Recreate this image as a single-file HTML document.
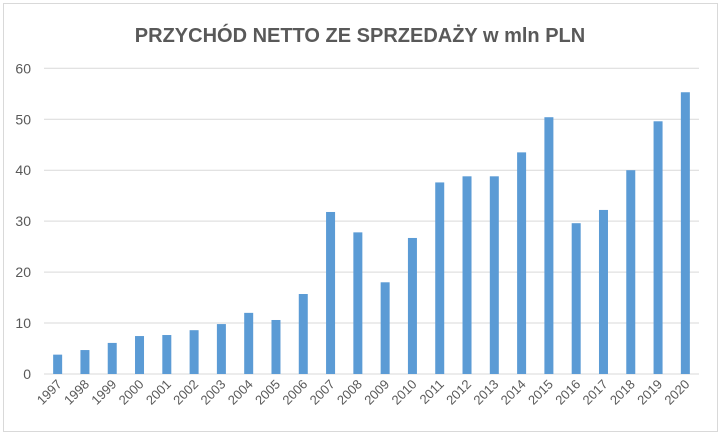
<!DOCTYPE html>
<html><head><meta charset="utf-8"><style>
html,body{margin:0;padding:0;background:#fff;}
svg{display:block;font-family:"Liberation Sans",sans-serif;}
</style></head><body>
<svg id="chart" width="721" height="436">
<rect x="3.5" y="3.5" width="714" height="428" fill="#fff" stroke="#d9d9d9"/>
<text x="360" y="42" text-anchor="middle" font-size="20" font-weight="bold" fill="#595959">PRZYCHÓD NETTO ZE SPRZEDAŻY w mln PLN</text>
<g id="grid"></g><g id="bars"></g><g id="xlabels"></g><g id="ylabels"></g>
</svg>
<script>
const categories=["1997","1998","1999","2000","2001","2002","2003","2004","2005","2006","2007","2008","2009","2010","2011","2012","2013","2014","2015","2016","2017","2018","2019","2020"];
const values=[3.8,4.7,6.1,7.45,7.65,8.6,9.8,12.0,10.6,15.7,31.8,27.8,18.0,26.7,37.6,38.8,38.8,43.5,50.4,29.6,32.2,40.0,49.6,55.3];
const yTicks=[0,10,20,30,40,50,60];
const NS="http://www.w3.org/2000/svg";
const x0=44,x1=699,yTop=68.3,yBot=374,yMax=60;
const band=(x1-x0)/categories.length;
const y=v=>yBot-(v/yMax)*(yBot-yTop);
const xc=i=>x0+band*(i+0.5);
const grid=document.getElementById('grid'),bars=document.getElementById('bars'),xl=document.getElementById('xlabels'),yl=document.getElementById('ylabels');
yTicks.forEach(t=>{
 const l=document.createElementNS(NS,'line');
 l.setAttribute('x1',x0);l.setAttribute('x2',x1);l.setAttribute('y1',y(t));l.setAttribute('y2',y(t));
 l.setAttribute('stroke','#d9d9d9');l.setAttribute('stroke-width','1');
 
 
 grid.appendChild(l);
 const tx=document.createElementNS(NS,'text');
 tx.setAttribute('x',31);tx.setAttribute('y',y(t)+5);tx.setAttribute('text-anchor','end');
 tx.setAttribute('font-size','14');tx.setAttribute('fill','#595959');
 tx.textContent=t;
 
 
 yl.appendChild(tx);
});
categories.forEach((c,i)=>{
 const r=document.createElementNS(NS,'rect');
 const bw=9;
 r.setAttribute('x',xc(i)-bw/2);r.setAttribute('width',bw);
 r.setAttribute('y',y(values[i]));r.setAttribute('height',yBot-y(values[i]));
 r.setAttribute('fill','#5b9bd5');
 
 
 bars.appendChild(r);
 const tx=document.createElementNS(NS,'text');
 const lx=xc(i)+5,ly=385;
 tx.setAttribute('x',lx);tx.setAttribute('y',ly);tx.setAttribute('text-anchor','end');
 tx.setAttribute('font-size','13');tx.setAttribute('fill','#595959');
 tx.setAttribute('transform','rotate(-45 '+lx+' '+ly+')');
 tx.textContent=c;
 
 
 xl.appendChild(tx);
});
</script>
</body></html>
